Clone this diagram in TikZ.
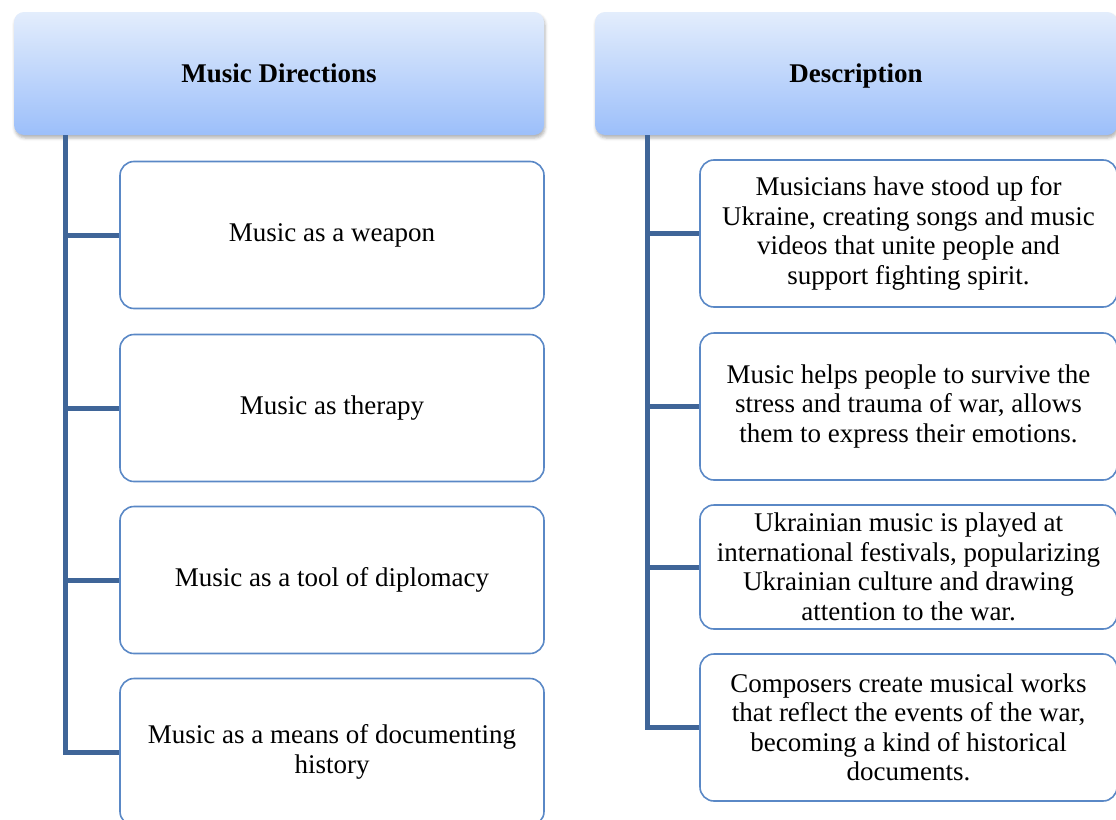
\documentclass[tikz,border=0pt]{standalone}
\usepackage{fontspec}
\setmainfont{Liberation Serif}
\usetikzlibrary{shadows.blur}
\definecolor{hdrtop}{HTML}{E3EDFC}
\definecolor{hdrbot}{HTML}{9CBFFA}
\definecolor{boxline}{HTML}{5A88C6}
\definecolor{stemblue}{HTML}{3F6598}
\begin{document}
\begin{tikzpicture}[x=1pt,y=-1pt,
 hdr/.style={rounded corners=10pt,top color=hdrtop,bottom color=hdrbot,draw=none,
  minimum height=123pt,inner sep=0pt,text height=20pt,text depth=3pt,
  font=\fontsize{27}{29.5}\selectfont\bfseries,
  blur shadow={shadow xshift=1pt,shadow yshift=-3pt,shadow blur radius=3pt,shadow opacity=30}},
 itembox/.style={draw=boxline,line width=1.6pt,rounded corners=14pt,fill=white,
  inner sep=0pt,align=center,font=\fontsize{27}{29.5}\selectfont},
 stem/.style={draw=stemblue,line width=5pt}]
\useasboundingbox (0,0) rectangle (1116,819);
\clip (0,0) rectangle (1116,819); % vùng hình
% 2 ô tiêu đề
\node[hdr,minimum width=530pt] (hdrA) at (279,73.5) {Music Directions};
\node[hdr,minimum width=522pt] (hdrB) at (856,73.5) {Description};
% cột trái
\foreach \name/\y/\txt in {dirA/235/Music as a weapon,dirB/408/Music as therapy,
  dirC/580/Music as a tool of diplomacy,dirD/752/{Music as a means of documenting\\history}}
\node[itembox,minimum width=424pt,minimum height=147pt] (\name) at (332,\y) {\txt};
% cột phải
\node[itembox,minimum width=417pt,minimum height=147pt] (desA) at (908.5,233.5)
 {Musicians have stood up for\\Ukraine, creating songs and music\\videos that unite people and\\support fighting spirit.};
\node[itembox,minimum width=417pt,minimum height=147pt] (desB) at (908.5,406.5)
 {Music helps people to survive the\\stress and trauma of war, allows\\them to express their emotions.};
\node[itembox,minimum width=417pt,minimum height=124pt] (desC) at (908.5,567)
 {Ukrainian music is played at\\international festivals, popularizing\\Ukrainian culture and drawing\\attention to the war.};
\node[itembox,minimum width=417pt,minimum height=147pt] (desD) at (908.5,727.5)
 {Composers create musical works\\that reflect the events of the war,\\becoming a kind of historical\\documents.};
% các nhánh nối
\coordinate (stemA) at ([xshift=52pt]hdrA.south west);
\coordinate (stemB) at ([xshift=53pt]hdrB.south west);
\draw[stem] (stemA) |- (dirD.west);
\foreach \n in {dirA,dirB,dirC} \draw[stem] (stemA |- \n.west) -- (\n.west);
\draw[stem] (stemB) |- (desD.west);
\foreach \n in {desA,desB,desC} \draw[stem] (stemB |- \n.west) -- (\n.west);
\end{tikzpicture}
\end{document}
